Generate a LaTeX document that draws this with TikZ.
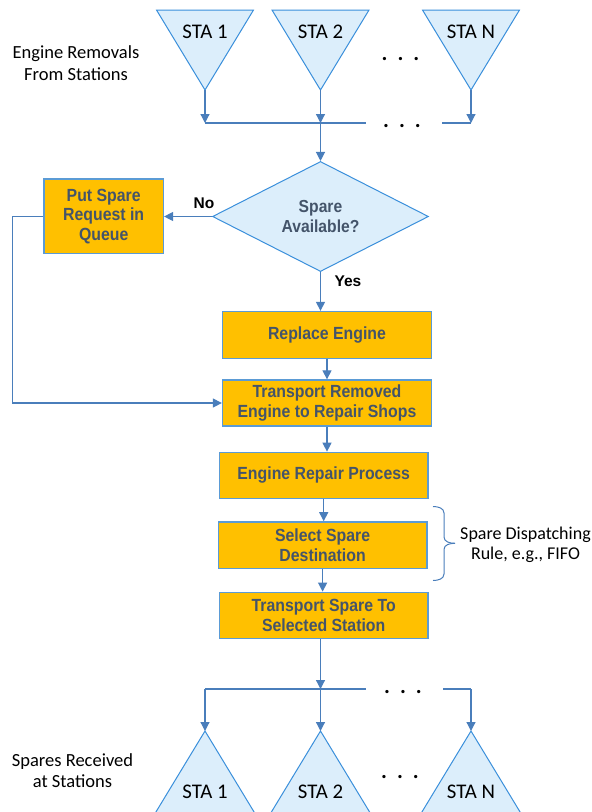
\documentclass[tikz,border=0pt]{standalone}
\usepackage{fontspec}
\setmainfont{Carlito}
\newfontfamily\arialf{Liberation Sans}
\newfontfamily\arialn{Liberation Sans}[FakeStretch=0.9]
\usetikzlibrary{arrows.meta,shapes.geometric,calc}
\definecolor{trifill}{HTML}{DCEEFB}
\definecolor{tristroke}{HTML}{3A8FDB}
\definecolor{boxfill}{HTML}{FFC000}
\definecolor{boxstroke}{HTML}{5B9BD5}
\definecolor{arrowc}{HTML}{4A7EBB}
\definecolor{boxtext}{HTML}{44546A}
\begin{document}
\begin{tikzpicture}[x=1pt,y=-1pt,
 procbox/.style={draw=boxstroke, line width=1.3pt, fill=boxfill, inner sep=0pt, text=boxtext, font=\arialn\bfseries\fontsize{17.6}{19.5}\selectfont, align=center},
 arr/.style={draw=arrowc, line width=1.2pt, -{Triangle[length=9pt,width=9pt]}},
 conn/.style={draw=arrowc, line width=1.2pt},
 bracel/.style={draw=arrowc, line width=1pt},
 tri/.style={draw=tristroke, fill=trifill, line width=1pt},
 statext/.style={font=\fontsize{20.8}{24}\selectfont},
 note/.style={font=\fontsize{18.5}{21.7}\selectfont, align=center},
 lbl/.style={font=\arialf\bfseries\fontsize{15.5}{18}\selectfont},
 dotsn/.style={font=\bfseries\fontsize{22}{22}\selectfont, anchor=base, inner sep=0pt}
]
\useasboundingbox (0,0) rectangle (592,812);

% top stations
\foreach \n/\x in {1/205,2/320.5,N/471}{
  \path[tri] (\x-48.5,10) -- (\x+48.5,10) -- (\x,90) -- cycle;
  \coordinate (ta\n) at (\x,90);
  \node[statext] (tsta\n) at (\x,32) {STA \n};
}
\node[note] (engrem) at (76,63) {Engine Removals\\From Stations};
\node[dotsn] (tdots) at (400.5,60) {.\hspace{10pt}.\hspace{10pt}.};

% top collector
\coordinate (j1) at (205,123);
\coordinate (j2) at (320.5,123);
\coordinate (jN) at (471,123);
\coordinate (jgL) at (366,123);
\coordinate (jgR) at (442,123);
\draw[arr] (ta1) -- (j1);
\draw[arr] (ta2) -- (j2);
\draw[arr] (taN) -- (jN);
\draw[conn] (j1) -- (jgL);
\draw[conn] (jgR) -- (jN);
\node[dotsn] (cdots) at (402,127) {.\hspace{10pt}.\hspace{10pt}.};

% decision
\node[diamond, draw=tristroke, fill=trifill, line width=1pt, minimum width=216pt, minimum height=102pt, inner sep=0pt, text=boxtext, font=\arialn\bfseries\fontsize{17.4}{20}\selectfont, align=center] (dia) at (320.5,216.5) {Spare\\Available?};
\draw[arr] (j2) -- (dia.north);

\node[procbox, minimum width=119.5pt, minimum height=74.5pt] (ps) at (103.7,216.2) {Put Spare\\Request in\\Queue};
\draw[arr] (dia.west) -- (dia.west -| ps.east);
\node[lbl] (no) at (204,203) {No};
\node[lbl] (yes) at (348,281) {Yes};

% process chain
\node[procbox, minimum width=209pt, minimum height=47pt] (re) at (327,335) {Replace Engine};
\node[procbox, minimum width=209pt, minimum height=46pt] (tr) at (327,403) {Transport Removed\\Engine to Repair Shops};
\node[procbox, minimum width=208.5pt, minimum height=46pt] (er) at (323.7,475.3) {Engine Repair Process};
\node[procbox, minimum width=208.7pt, minimum height=46.3pt] (ss) at (322.6,545) {Select Spare\\Destination};
\node[procbox, minimum width=208.5pt, minimum height=46pt] (ts) at (323.7,615.3) {Transport Spare To\\Selected Station};

\draw[arr] (dia.south) -- (dia.south |- re.north);
\draw[arr] (re.south) -- (re.south |- tr.north);
\draw[arr] (tr.south) -- (tr.south |- er.north);
\draw[arr] (er.south) -- (er.south |- ss.north);
\draw[arr] (ss.south) -- (ss.south |- ts.north);

% loop back
\coordinate (lp) at (12.3,300);
\draw[arr] (ps.west) -| (lp) |- (tr.west);

% brace
\draw[bracel] (433,506.5) to[out=0,in=90] (444,513) -- (444,537) to[out=-90,in=180] (455,543.3);
\draw[bracel] (455,543.3) to[out=180,in=90] (444,549.5) -- (444,574) to[out=-90,in=0] (433,580.5);
\node[note, font=\fontsize{18}{20.5}\selectfont] (sd) at (525.5,545) {Spare Dispatching\\Rule, e.g., FIFO};

% bottom distributor
\coordinate (b1) at (205,689);
\coordinate (b2) at (320.5,689);
\coordinate (bN) at (471,689);
\coordinate (bgL) at (366,689);
\coordinate (bgR) at (443,689);
\draw[arr] (ts.south -| b2) -- (b2);
\draw[conn] (b1) -- (bgL);
\draw[conn] (bgR) -- (bN);
\node[dotsn] (bdots) at (403,693.7) {.\hspace{10pt}.\hspace{10pt}.};

\foreach \n/\x in {1/205,2/320.5,N/471}{
  \path[tri] (\x-50,813.5) -- (\x+50,813.5) -- (\x,731) -- cycle;
  \coordinate (ba\n) at (\x,731);
  \node[statext] (bsta\n) at (\x,792) {STA \n};
}
\draw[arr] (b1) -- (ba1);
\draw[arr] (b2) -- (ba2);
\draw[arr] (bN) -- (baN);
\node[dotsn] (sdots) at (400,778.7) {.\hspace{10pt}.\hspace{10pt}.};
\node[note] (sprec) at (72.5,770.5) {Spares Received\\at Stations};
\end{tikzpicture}
\end{document}
